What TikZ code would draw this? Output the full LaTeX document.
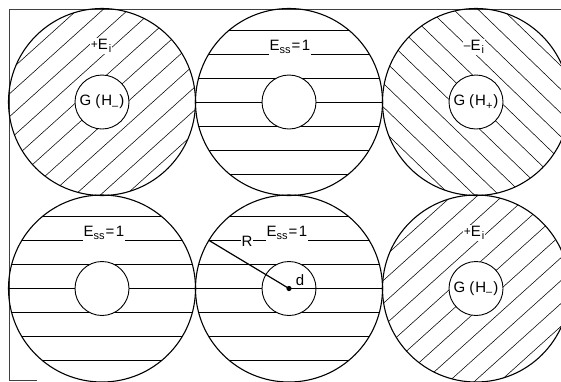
\documentclass[tikz,border=0pt]{standalone}
\usepackage{fontspec}
\setmainfont{Liberation Sans}
\newcommand\subsc[1]{\raisebox{-3.5pt}{\fontsize{11}{11}\selectfont #1}}
\newcommand\Esslab{E\subsc{ss}\hspace{1pt}{=}\hspace{1.5pt}1}
\newcommand\Eilab[1]{\raisebox{1pt}{\fontsize{12}{12}\selectfont #1}E\hspace{1pt}\subsc{i}}
\newcommand\Glab[1]{G\hspace{4pt}(\hspace{1pt}H\subsc{#1}\hspace{1pt})}
\newcommand\hatchcirc[3]{%
  \begin{scope}
    \clip (#1) circle[radius=93.5pt];
    \begin{scope}[shift={(#1)}, rotate=#2]
      \foreach \k in {-6,...,6} \draw[hatch] (-110,\k*#3) -- (110,\k*#3);
    \end{scope}
  \end{scope}}
\begin{document}
\begin{tikzpicture}[x=1pt,y=-1pt,
  hatch/.style={line width=0.55pt},
  outer/.style={circle, draw, line width=1.1pt, minimum size=187pt, inner sep=0pt, outer sep=0pt},
  inner/.style={circle, draw, fill=white, line width=0.9pt, minimum size=54pt, inner sep=0pt, outer sep=0pt,
    font=\fontsize{15}{15}\selectfont},
  lab/.style={fill=white, inner sep=1pt, font=\fontsize{15}{15}\selectfont},
  frame/.style={line width=0.6pt, black!75},
  radline/.style={line width=1.2pt}]
\useasboundingbox (0,0) rectangle (561,381);
\clip (0,0) rectangle (561,381);
% frame
\draw[frame] (37,380) -- (9,380) -- (9,9) -- (561,9);
% centres
\coordinate (c1) at (102,102);
\coordinate (c2) at (289,102);
\coordinate (c3) at (476,102);
\coordinate (c4) at (102,288.5);
\coordinate (c5) at (289,288.5);
\coordinate (c6) at (476,288.5);
% hatching
\hatchcirc{c1}{42}{17}
\hatchcirc{c2}{0}{24}
\hatchcirc{c3}{-44}{17}
\hatchcirc{c4}{0}{24}
\hatchcirc{c5}{0}{24}
\hatchcirc{c6}{42}{17}
% outer circles
\node[outer] (o1) at (c1) {};
\node[outer] (o2) at (c2) {};
\node[outer] (o3) at (c3) {};
\node[outer] (o4) at (c4) {};
\node[outer] (o5) at (c5) {};
\node[outer] (o6) at (c6) {};
% inner circles
\node[inner] (i1) at (c1) {\Glab{–}};
\node[inner] (i2) at (c2) {};
\node[inner] (i3) at (c3) {\Glab{+}};
\node[inner] (i4) at (c4) {};
\node[inner] (i5) at (c5) {};
\node[inner] (i6) at (c6) {\Glab{–}};
% labels
\node[lab] (l1) at (101,46) {\Eilab{+}};
\node[lab] (l2) at (290,47) {\Esslab};
\node[lab] (l3) at (474,47) {\Eilab{–}};
\node[lab] (l4) at (104,233) {\Esslab};
\node[lab] (l6) at (474,233) {\Eilab{+}};
% radius and d
\draw[radline] (i5.center) -- (o5.149.4);
\node[lab] (lR) at (247,241) {R};
\node[lab] (l5) at (287,233) {\Esslab};
\draw[radline] (i5.center) -- (i5.east);
\fill (i5.center) circle[radius=2.6pt];
\node[font=\fontsize{15}{15}\selectfont, inner sep=0pt] (ld) at (300,280) {d};
\end{tikzpicture}
\end{document}
